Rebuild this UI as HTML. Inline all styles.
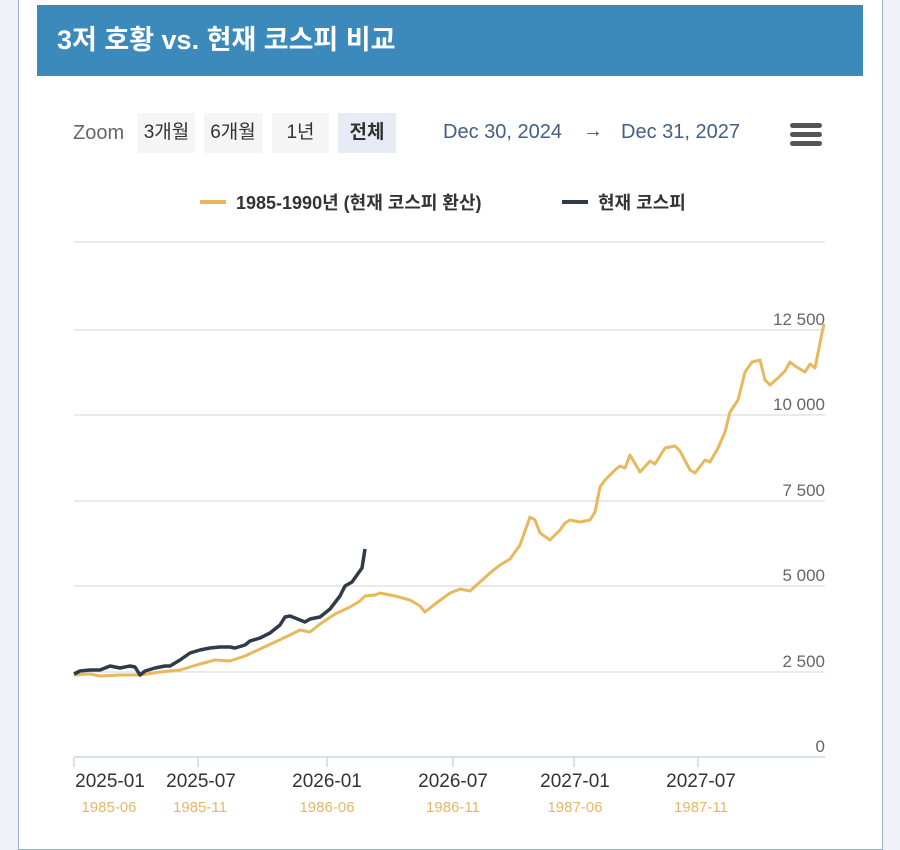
<!DOCTYPE html>
<html><head><meta charset="utf-8"><style>
body{margin:0;width:900px;height:841px;background:#eef2f8;font-family:"Liberation Sans","Noto Sans CJK KR",sans-serif;position:relative;overflow:hidden}
.card{position:absolute;left:18px;top:-2px;width:863px;height:850px;background:#fff;border:1px solid #9fb3c8}
.hdr{position:absolute;left:37px;top:5px;width:826px;height:71px;background:#3c8abb;color:#fff;font-weight:bold;font-size:27px;line-height:71px;padding-left:20px;box-sizing:border-box}
.t{position:absolute;font-size:20px;color:#333}
.btn{position:absolute;top:113px;height:40px;line-height:40px;background:#f5f5f5;text-align:center;font-size:19px;color:#333}
</style></head><body>
<div class="card"></div>
<div class="hdr">3저 호황 vs. 현재 코스피 비교</div>
<div class="t" style="left:73px;top:122px;color:#666">Zoom</div>
<div class="btn" style="left:138px;width:57px">3개월</div>
<div class="btn" style="left:204px;width:58px">6개월</div>
<div class="btn" style="left:272px;width:57px">1년</div>
<div class="btn" style="left:338px;width:58px;background:#e6ebf5;font-weight:bold">전체</div>
<div class="t" style="left:443px;top:121px;color:#445f7f">Dec 30, 2024</div>
<div class="t" style="left:583px;top:120px;color:#555">→</div>
<div class="t" style="left:621px;top:121px;color:#445f7f">Dec 31, 2027</div>
<div style="position:absolute;left:790px;top:123px;width:32px;height:5px;background:#555;border-radius:3px"></div>
<div style="position:absolute;left:790px;top:132px;width:32px;height:5px;background:#555;border-radius:3px"></div>
<div style="position:absolute;left:790px;top:141px;width:32px;height:5px;background:#555;border-radius:3px"></div>
<svg style="position:absolute;left:0;top:0" width="900" height="841">
<g font-family="Liberation Sans,Noto Sans CJK KR,sans-serif">
<line x1="200" y1="202" x2="226" y2="202" stroke="#e8b85c" stroke-width="4"/>
<text x="236" y="209" font-size="18" font-weight="bold" fill="#333">1985-1990년 (현재 코스피 환산)</text>
<line x1="562" y1="202" x2="588" y2="202" stroke="#2f3b48" stroke-width="4"/>
<text x="598" y="209" font-size="18" font-weight="bold" fill="#333">현재 코스피</text>
<g stroke="#e3e3e3" stroke-width="1.5">
<line x1="74" y1="242" x2="825" y2="242"/><line x1="74" y1="330" x2="825" y2="330"/>
<line x1="74" y1="415" x2="825" y2="415"/><line x1="74" y1="501" x2="825" y2="501"/>
<line x1="74" y1="586" x2="825" y2="586"/><line x1="74" y1="672" x2="825" y2="672"/>
</g>
<line x1="74" y1="757" x2="825" y2="757" stroke="#ccd6eb" stroke-width="1.5"/>
<g stroke="#ccd6eb" stroke-width="1.5">
<line x1="74" y1="757" x2="74" y2="767"/><line x1="198" y1="757" x2="198" y2="767"/><line x1="327" y1="757" x2="327" y2="767"/><line x1="453" y1="757" x2="453" y2="767"/><line x1="574" y1="757" x2="574" y2="767"/><line x1="698" y1="757" x2="698" y2="767"/>
</g>
<g font-size="17" fill="#666" text-anchor="end">
<text x="825" y="325">12 500</text><text x="825" y="410">10 000</text><text x="825" y="496">7 500</text><text x="825" y="581">5 000</text><text x="825" y="667">2 500</text><text x="825" y="752">0</text>
</g>
<g font-size="19" fill="#333" text-anchor="middle">
<text x="110" y="787">2025-01</text><text x="201" y="787">2025-07</text><text x="327" y="787">2026-01</text><text x="453" y="787">2026-07</text><text x="575" y="787">2027-01</text><text x="701" y="787">2027-07</text>
</g>
<g font-size="15" fill="#e3b867" text-anchor="middle">
<text x="109" y="812">1985-06</text><text x="200" y="812">1985-11</text><text x="327" y="812">1986-06</text><text x="453" y="812">1986-11</text><text x="575" y="812">1987-06</text><text x="701" y="812">1987-11</text>
</g>
</g>
<polyline fill="none" stroke="#e8b85c" stroke-width="3" stroke-linejoin="round" points="74,675 90,674 100,676 120,675 140,675 160,672 180,670 200,664 215,660 230,661 245,656 260,649 275,642 290,635 300,630 310,632 320,624 335,614 350,607 360,601 365,596 375,595 380,593 395,596 410,600 420,606 425,612 435,604 450,593 460,589 470,591 480,582 490,573 500,565 510,559 520,545 530,517 535,520 540,533 550,540 560,530 565,523 570,520 580,522 590,520 595,512 600,487 605,480 615,470 620,466 625,468 630,455 640,472 650,461 655,464 665,448 675,446 680,451 690,470 695,473 705,460 710,462 718,448 725,432 730,412 738,400 745,372 752,362 760,360 765,380 770,385 778,378 785,371 790,362 795,366 805,372 810,364 815,368 822,333 824,324"/>
<polyline fill="none" stroke="#2f3b48" stroke-width="3.5" stroke-linejoin="round" points="74,674 80,671 90,670 100,670 105,668 110,666 120,668 130,666 135,667 140,675 145,671 155,668 165,666 170,666 180,660 190,653 200,650 210,648 220,647 230,647 235,648 245,645 250,641 260,638 270,633 280,625 285,617 290,616 300,620 305,622 310,619 320,617 330,609 340,596 345,586 352,582 362,568 365,549"/>
</svg>
</body></html>
